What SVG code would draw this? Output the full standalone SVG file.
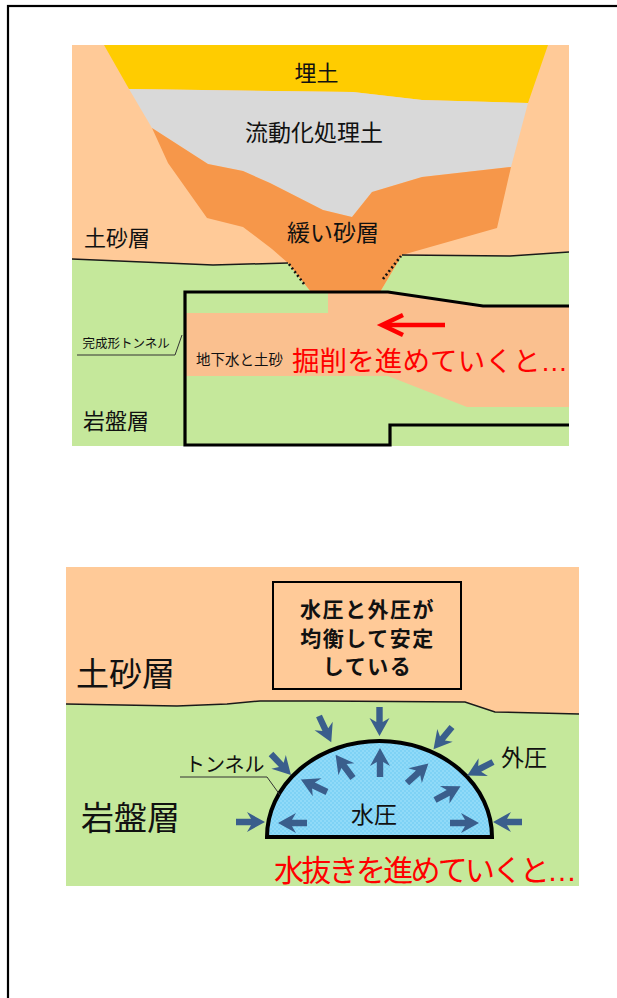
<svg xmlns="http://www.w3.org/2000/svg" width="617" height="998" viewBox="0 0 617 998">
  <style>
    .jp { font-family: "Noto Sans CJK JP", "Noto Sans", sans-serif; fill: #111; }
    .red { fill: #FF0000; }
    .bold { font-weight: bold; }
    .dotsx { font-family: "Liberation Sans", sans-serif; }
    .soil { fill: #FFCA98; }
    .rock { fill: #C5E89B; }
    .thin { fill: none; stroke: #1a1a1a; stroke-width: 1.5; }
    .leader { fill: none; stroke: #333; stroke-width: 1; }
    .wall { fill: none; stroke: #000; stroke-width: 3.2; stroke-linejoin: miter; }
    .dots { fill: none; stroke: #111; stroke-width: 2.6; stroke-dasharray: 2 2.6; }
    .push { fill: #3A5E8C; }
  </style>
  <defs>
    <!-- block arrow pointing along +x, tail at origin -->
    <path id="arr" d="M0,-3.2 H15 L11,-10 L29,0 L11,10 L15,3.2 H0 Z"/>
    <pattern id="water" width="4" height="4" patternUnits="userSpaceOnUse">
      <rect width="4" height="4" fill="#7ED2F5"/>
      <rect width="2" height="2" fill="#90DAF8"/>
      <rect x="2" y="2" width="2" height="2" fill="#90DAF8"/>
    </pattern>
  </defs>

  <rect width="617" height="998" fill="#fff"/>
  <!-- page frame -->
  <rect x="8" y="6" width="660" height="1060" fill="none" stroke="#000" stroke-width="2.2"/>

  <!-- ===== upper section: excavation face ===== -->
  <g id="section-excavation">
    <rect class="soil" x="72" y="45" width="497" height="401"/>
    <polygon class="rock" points="72,259 213,265 288,263 311,292 380,292 402,255 510,256 569,252 569,446 72,446"/>
    <!-- fill layers -->
    <polygon id="layer-fill" fill="#FFCC00" points="104,45 548,45 528,103 422,100 353,92 129,89"/>
    <polygon id="layer-fluid" fill="#D9D9D9" points="129,89 353,92 422,100 528,103 511,167 422,177 372,192 352,217 323,210 270,183 243,171 208,164 152,128"/>
    <polygon id="layer-loose" fill="#F6974A" points="152,128 208,164 243,171 270,183 323,210 352,217 372,192 422,177 511,167 497,228 402,255 380,292 311,292 288,263 272,249 243,227 207,218 168,163"/>
    <!-- inflow of groundwater and sand -->
    <polygon id="inflow" fill="#FAC08F" points="185,313 328,313 328,292 388,292 483,306 569,306 569,407 467,407 388,376 185,376"/>
    <!-- tunnel outline -->
    <polyline class="wall" points="569,306 483,306 388,292 185,292 185,445 390,445 390,425 569,425"/>
    <!-- boundary between soil and bedrock -->
    <polyline class="thin" points="72,259 213,265 288,263"/>
    <line class="dots" x1="289" y1="264" x2="304" y2="284"/>
    <line class="dots" x1="383" y1="279" x2="401" y2="256"/>
    <polyline class="thin" points="402,255 510,256 569,252"/>

    <text class="jp" x="316.5" y="80.5" font-size="22" text-anchor="middle">埋土</text>
    <text class="jp" x="314" y="141" font-size="23" text-anchor="middle">流動化処理土</text>
    <text class="jp" x="287" y="241" font-size="23">緩い砂層</text>
    <text class="jp" x="84" y="246" font-size="22">土砂層</text>
    <text class="jp" x="83" y="429" font-size="22">岩盤層</text>
    <text class="jp" x="82.5" y="348" font-size="12.5">完成形トンネル</text>
    <polyline class="leader" points="77,355 175,355 182,335"/>
    <text class="jp" x="196" y="364.5" font-size="14.5">地下水と土砂</text>
    <text class="jp red" x="292" y="371" font-size="27.5" textLength="276">掘削を進めていくと<tspan class="dotsx">…</tspan></text>
    <!-- direction of excavation -->
    <line x1="384" y1="325" x2="445" y2="325" stroke="#FF0000" stroke-width="4.5"/>
    <polyline points="403,315 382,325 403,335" fill="none" stroke="#FF0000" stroke-width="4.5"/>
  </g>

  <!-- ===== lower section: pressure balance ===== -->
  <g id="section-balance">
    <rect class="soil" x="66" y="567" width="513" height="319"/>
    <polygon class="rock" points="66,704 177,706 227,704 260,701 320,701 465,702 495,712 579,714 579,886 66,886"/>
    <polyline class="thin" points="66,704 177,706 227,704 260,701 320,701 465,702 495,712 579,714"/>

    <g id="note">
      <rect x="273" y="582" width="188" height="107" fill="none" stroke="#000" stroke-width="2"/>
      <text class="jp bold" x="367.5" y="616.5" font-size="21" letter-spacing="1.5" text-anchor="middle">水圧と外圧が</text>
      <text class="jp bold" x="367.5" y="645.5" font-size="21" letter-spacing="1.5" text-anchor="middle">均衡して安定</text>
      <text class="jp bold" x="367.5" y="673.5" font-size="21" letter-spacing="1.5" text-anchor="middle">している</text>
    </g>

    <text class="jp" x="76" y="686" font-size="33">土砂層</text>
    <text class="jp" x="81" y="830" font-size="33">岩盤層</text>

    <g id="tunnel">
      <path d="M267,837 A112.5,96 0 0 1 492,837 Z" fill="url(#water)" stroke="#000" stroke-width="4"/>
      <text class="jp" x="185" y="772" font-size="20">トンネル</text>
      <polyline class="leader" points="180,777 267,777 280,795"/>
      <text class="jp" x="351" y="823" font-size="23">水圧</text>
    </g>
    <text class="jp" x="501" y="766" font-size="23">外圧</text>

    <!-- external pressure -->
    <g id="outer-pressure" class="push">
      <use href="#arr" transform="translate(236,822) rotate(0)"/>
      <use href="#arr" transform="translate(271,754) rotate(46.5)"/>
      <use href="#arr" transform="translate(319,716) rotate(65)"/>
      <use href="#arr" transform="translate(379.5,707) rotate(90)"/>
      <use href="#arr" transform="translate(452,727) rotate(129.6)"/>
      <use href="#arr" transform="translate(493,762) rotate(152.5)"/>
      <use href="#arr" transform="translate(522,822) rotate(180)"/>
    </g>
    <!-- water pressure -->
    <g id="inner-pressure" class="push">
      <use href="#arr" transform="translate(307,823) rotate(180)"/>
      <use href="#arr" transform="translate(327,792) rotate(205.7)"/>
      <use href="#arr" transform="translate(353,778) rotate(233.1)"/>
      <use href="#arr" transform="translate(380,777) rotate(270)"/>
      <use href="#arr" transform="translate(407,783) rotate(-42.5)"/>
      <use href="#arr" transform="translate(435,800) rotate(-28.2)"/>
      <use href="#arr" transform="translate(450,823) rotate(0)"/>
    </g>

    <text class="jp red" x="274" y="881" font-size="30" textLength="303">水抜きを進めていくと<tspan class="dotsx">…</tspan></text>
  </g>
</svg>
